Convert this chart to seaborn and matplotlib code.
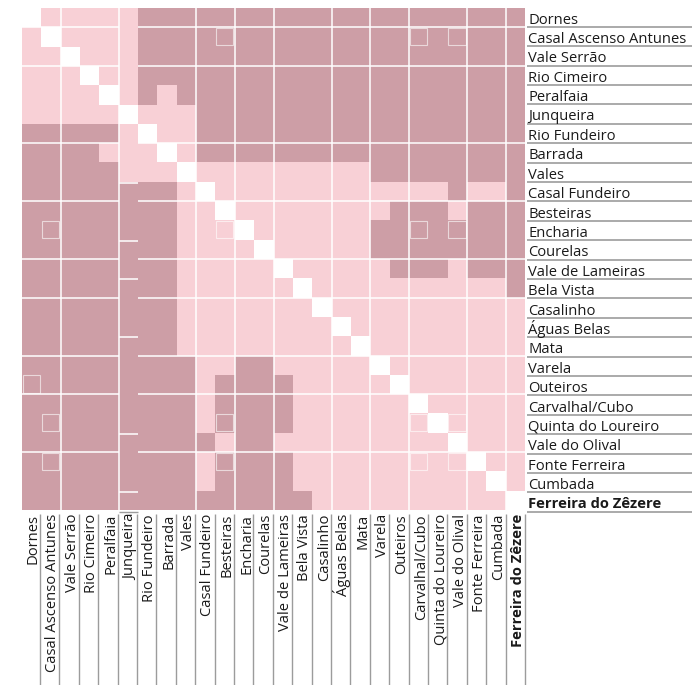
import matplotlib
matplotlib.use("Agg")
import matplotlib.pyplot as plt
from matplotlib.colors import ListedColormap
from matplotlib.patches import Rectangle
import pandas as pd
import seaborn as sns

labels = ["Dornes", "Casal Ascenso Antunes", "Vale Serrão", "Rio Cimeiro", "Peralfaia",
          "Junqueira", "Rio Fundeiro", "Barrada", "Vales", "Casal Fundeiro", "Besteiras",
          "Encharia", "Courelas", "Vale de Lameiras", "Bela Vista", "Casalinho",
          "Águas Belas", "Mata", "Varela", "Outeiros", "Carvalhal/Cubo",
          "Quinta do Loureiro", "Vale do Olival", "Fonte Ferreira", "Cumbada",
          "Ferreira do Zêzere"]

# D = dark cell, L = light cell, - = diagonal
grid = [
    "-LLLLLDDDDDDDDDDDDDDDDDDDD",
    "L-LLLLDDDDDDDDDDDDDDDDDDDD",
    "LL-LLLDDDDDDDDDDDDDDDDDDDD",
    "LLL-LLDDDDDDDDDDDDDDDDDDDD",
    "LLLL-LDLDDDDDDDDDDDDDDDDDD",
    "LLLLL-LLLDDDDDDDDDDDDDDDDD",
    "DDDDDL-LLDDDDDDDDDDDDDDDDD",
    "DDDDLLL-LDDDDDDDDDDDDDDDDD",
    "DDDDDLLL-LLLLLLLLLDDDDDDDD",
    "DDDDDDDDL-LLLLLLLLLLLLDLLD",
    "DDDDDDDDLL-LLLLLLLLDDDLDDD",
    "DDDDDDDDLLL-LLLLLLDDDDDDDD",
    "DDDDDDDDLLLL-LLLLLDDDDDDDD",
    "DDDDDDDDLLLLL-LLLLLDDDLDDD",
    "DDDDDDDDLLLLLL-LLLLLLLLLLD",
    "DDDDDDDDLLLLLLL-LLLLLLLLLL",
    "DDDDDDDDLLLLLLLL-LLLLLLLLL",
    "DDDDDDDDLLLLLLLLL-LLLLLLLL",
    "DDDDDDDDDLLDDLLLLL-LLLLLLL",
    "DDDDDDDDDLDDDDLLLLL-LLLLLL",
    "DDDDDDDDDLDDDDLLLLLL-LLLLL",
    "DDDDDDDDDLDDDDLLLLLLL-LLLL",
    "DDDDDDDDDDLDDLLLLLLLLL-LLL",
    "DDDDDDDDDLDDDDLLLLLLLLL-LL",
    "DDDDDDDDDLDDDDLLLLLLLLLL-L",
    "DDDDDDDDDDDDDDDLLLLLLLLLL-",
]

# outlined (highlighted) cells: (row, col)
marked = [(1, 10), (1, 20), (1, 22), (11, 1), (11, 10), (11, 20), (11, 22),
          (21, 1), (21, 10), (21, 20), (21, 22), (23, 1), (23, 10), (23, 20),
          (23, 22), (19, 0)]

# group separators
h_breaks = [1, 3, 7, 10, 13, 15, 18, 20, 23]
h_breaks_col5 = [9, 12, 14, 17, 22, 25]
v_breaks = [2, 5, 9, 11, 13, 16, 18, 20, 23, 25]

dark = "#cd9ea6"
light = "#f8d0d6"

code = {"D": 0, "L": 1, "-": 2}
mat = pd.DataFrame([[code[c] for c in row] for row in grid], index=labels, columns=labels)

W, H = 692, 685
fig = plt.figure(figsize=(W / 100, H / 100), dpi=100)
x0, x1, y0, y1 = 22, 525, 8, 510
ax = fig.add_axes([x0 / W, 1 - y1 / H, (x1 - x0) / W, (y1 - y0) / H])

sns.heatmap(mat, ax=ax, cmap=ListedColormap([dark, light, "white"]), vmin=-0.5, vmax=2.5,
            cbar=False, xticklabels=False, yticklabels=False)
ax.set_xlim(0, 26)
ax.set_ylim(26, 0)
ax.set_axis_off()

sx = (x1 - x0) / 26
sy = (y1 - y0) / 26
def px(v):
    return (v - x0) / sx
def py(v):
    return (v - y0) / sy

lw_white = 1.1
for b in h_breaks:
    ax.plot([0, 5], [b, b], color="white", lw=lw_white, solid_capstyle="butt")
    ax.plot([6, 26], [b, b], color="white", lw=lw_white, solid_capstyle="butt")
for b in h_breaks_col5:
    ax.plot([5, 6], [b + 0.05, b + 0.05], color="white", lw=lw_white, solid_capstyle="butt")
for b in v_breaks:
    ax.plot([b, b], [0, 26], color="white", lw=lw_white, solid_capstyle="butt")

for r, c in marked:
    ax.add_patch(Rectangle((c + 0.03, r + 0.03), 0.9, 0.9, fill=False,
                           edgecolor="white", alpha=0.6, lw=0.8))

plt.rcParams["font.family"] = ["Open Sans", "DejaVu Sans"]
fs = 10.6
gray = "#9c9c9c"

# right labels with underlines
for k, name in enumerate(labels):
    under = 26.7 + 19.4 * k
    ax.plot([px(527), px(692)], [py(under), py(under)], color=gray, lw=1.2,
            clip_on=False, solid_capstyle="butt")
    ax.text(px(528), py(under - 3.2), name, ha="left", va="baseline", fontsize=fs,
            fontweight="bold" if k == 25 else "normal", color="#1a1a1a", clip_on=False)

# bottom labels with separators
for k, name in enumerate(labels):
    sep = 40 + 19.4 * k
    ax.plot([px(sep), px(sep)], [py(514), py(685)], color=gray, lw=1.0,
            clip_on=False, solid_capstyle="butt")
    ax.text(px(sep - 3.3), py(514), name, rotation=90, rotation_mode="anchor",
            ha="right", va="baseline", fontsize=fs,
            fontweight="bold" if k == 25 else "normal", color="#1a1a1a", clip_on=False)

ax.plot([5, 6], [py(512), py(512)], color=gray, lw=1.0, clip_on=False, solid_capstyle="butt")

fig.savefig("out.png", dpi=100)
